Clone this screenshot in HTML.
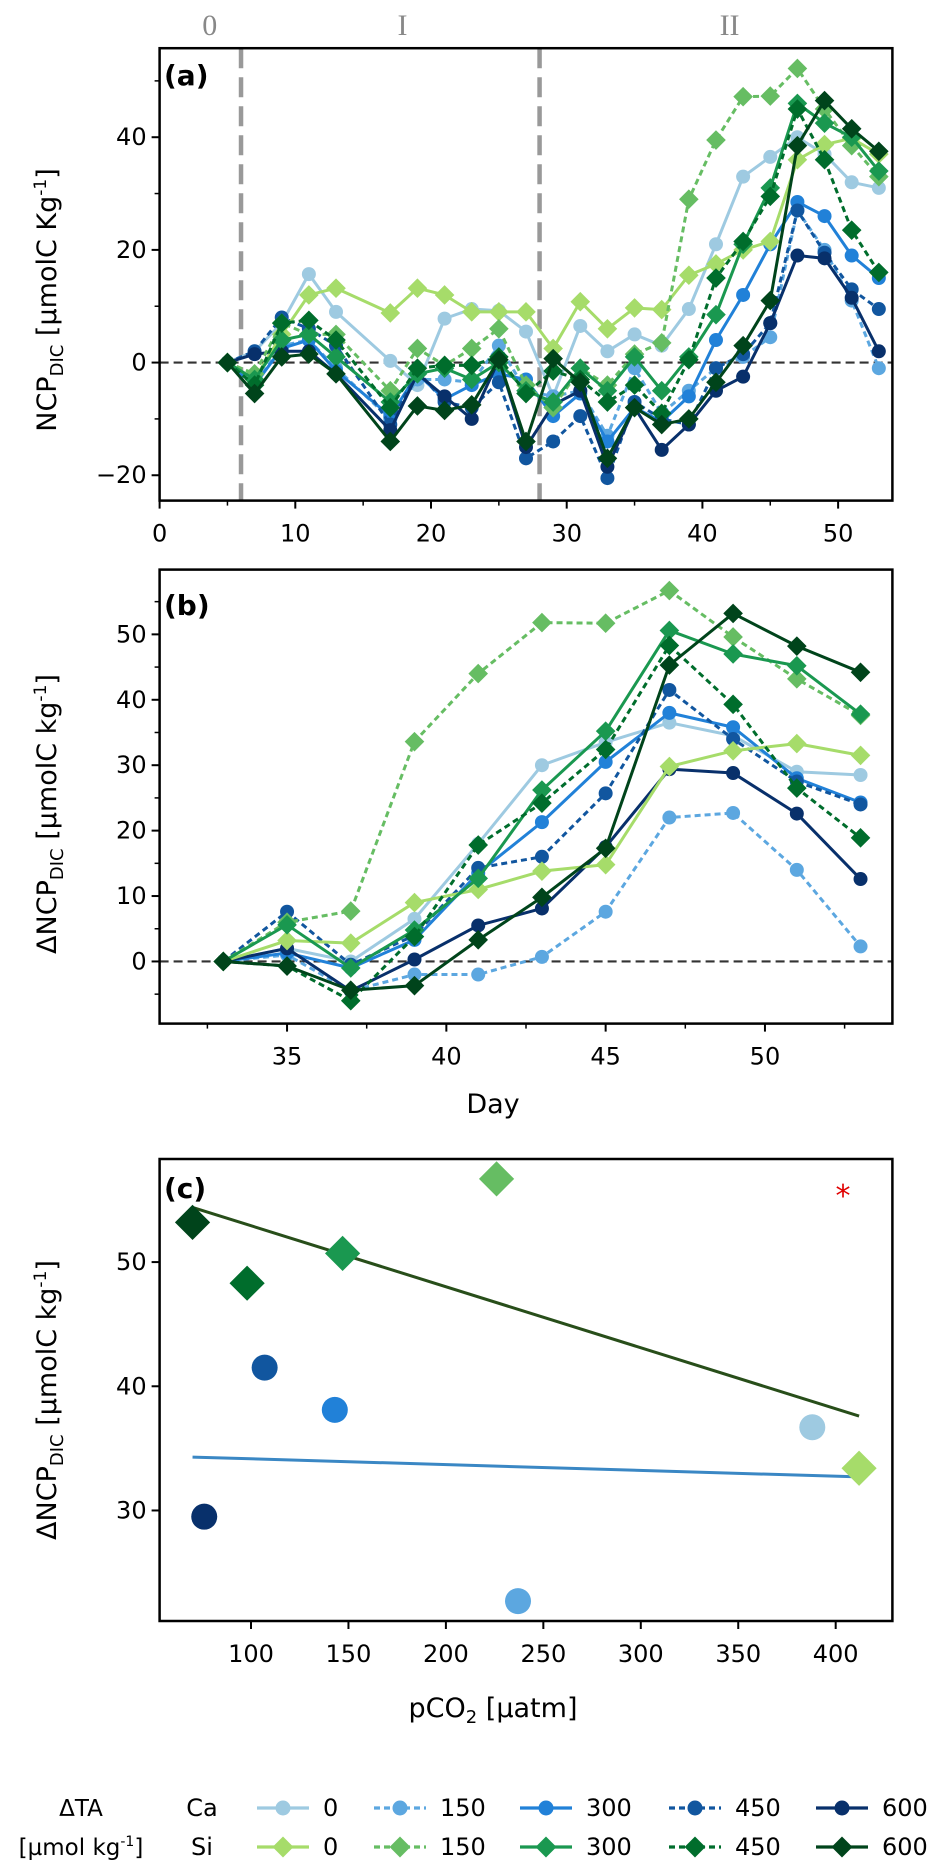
<!DOCTYPE html>
<html><head><meta charset="utf-8"><style>
html,body{margin:0;padding:0;background:#fff;}
svg text{font-family:"DejaVu Sans","Liberation Sans",sans-serif;}
</style></head><body>
<svg id="fig" xmlns="http://www.w3.org/2000/svg" width="937" height="1867" viewBox="0 0 937 1867"></svg>
<script>
// ---------- DATA ----------
const seriesNames = ["Ca0","Ca150","Ca300","Ca450","Ca600","Si0","Si150","Si300","Si450","Si600"];
const seriesLabels = ["0","150","300","450","600","0","150","300","450","600"];
const daysA = [5,7,9,11,13,17,19,21,23,25,27,29,31,33,35,37,39,41,43,45,47,49,51,53];
const aCa0   = [0,2,7,15.7,9,0.3,-4,7.8,9.5,9.2,5.5,-6,6.5,2,5,3,9.5,21,33,36.5,40,37,32,31];
const aCa150 = [0,-4,3,4,-1,-10,-3,-3,-3.5,3,-5,-6,-5,-13,-1,-9,-5,-1,1,4.5,27,20,11,-1];
const aCa300 = [0,-4,2.5,4,-1.5,-9.5,-2,-6.5,-4,-2,-3,-9.5,-5.5,-14,-8,-10.5,-6,4,12,21,28.5,26,19,15];
const aCa450 = [0,2,8,6,3,-11,-1.5,-7,-8,-3.5,-17,-14,-9.5,-20.5,-7,-10,-11,-1,1.5,7,27,19.5,13,9.5];
const aCa600 = [0,1.5,2,2,-2,-12,-2,-6,-10,0.5,-15,-7.5,-5,-18.5,-8,-15.5,-11,-5,-2.5,7,19,18.5,11.5,2];
const aSi0   = [0,-3,5,12,13.2,8.8,13.2,12,9,9,9,2.5,10.8,6,9.7,9.4,15.5,17.5,20,21.5,36,38.7,39.8,37];
const aSi150 = [0,-2,7,5,5,-5,2.5,-0.5,2.5,6,-4,-8,-1,-4,1.5,3.5,29,39.5,47.2,47.3,52.2,45,38.5,33];
const aSi300 = [0,-3,4,5,1,-7,-2,-1,-3,0,-5,-7,-1,-5,1,-5,1,8.5,21,31,46,42.5,40,34];
const aSi450 = [0,-4,7,7.5,4,-8,-1,-0.5,-0.5,1,-5.5,-1.5,-3,-7,-4,-9,0.5,15,21.5,29.5,45,36,23.5,16];
const aSi600 = [0,-5.5,1,1.5,-2,-14,-7.7,-8.5,-7.5,0.5,-14,0.7,-3.5,-17,-8,-11,-10,-3.5,3,11,38.5,46.5,41.5,37.5];
const daysB = [33,35,37,39,41,43,45,47,49,51,53];
const bCa0   = [0,2,0,6.5,18,30,33.5,36.5,34.5,29,28.5];
const bCa150 = [0,1,-4.5,-2,-2,0.7,7.6,22,22.7,14,2.3];
const bCa300 = [0,1.3,-1,3.3,13.5,21.3,30.5,38,35.8,28,24.3];
const bCa450 = [0,7.6,-0.5,4,14.3,16,25.7,41.5,34,27.5,24];
const bCa600 = [0,2,-4.5,0.3,5.5,8.1,17.5,29.4,28.8,22.6,12.6];
const bSi0   = [0,3.2,2.8,9,11,13.8,14.8,29.8,32.2,33.3,31.5];
const bSi150 = [0,6,7.7,33.6,44,51.8,51.7,56.7,49.6,43.2,37.6];
const bSi300 = [0,5.6,-1,4.8,12.7,26.2,35.2,50.6,47,45.2,37.8];
const bSi450 = [0,-0.7,-6,3.8,17.8,24.2,32.4,48.3,39.3,26.5,18.9];
const bSi600 = [0,-0.7,-4.4,-3.7,3.3,9.8,17.3,45.3,53.2,48.2,44.2];
const cPco2 = [388,237,143,107,76,412,226,147,98,70];
const cDelta = [36.7,22.7,38.1,41.5,29.5,33.4,56.7,50.7,48.3,53.2];
const fitSiX = [70,412];
const fitSiY = [54.4,37.6];
const fitCaX = [70,412];
const fitCaY = [34.3,32.7];
const ticksAx = [0,10,20,30,40,50];
const ticksAy = [-20,0,20,40];
const ticksBx = [35,40,45,50];
const ticksBy = [0,10,20,30,40,50];
const ticksCx = [100,150,200,250,300,350,400];
const ticksCy = [30,40,50];
const phaseLines = [6,28];
const phaseLabels = ["0","I","II"];
const phaseLabelDays = [3.7,17.9,42.0];

// ---------- STYLE ----------
const colors = ["#9ecae1","#5ca7e0","#2181d8","#11569f","#08306b","#a6dc6a","#66bd63","#1a9850","#006d2c","#00441b"];
const dashed = [false,true,false,true,false,false,true,false,true,false];
const aData = [aCa0,aCa150,aCa300,aCa450,aCa600,aSi0,aSi150,aSi300,aSi450,aSi600];
const bData = [bCa0,bCa150,bCa300,bCa450,bCa600,bSi0,bSi150,bSi300,bSi450,bSi600];

const NS = "http://www.w3.org/2000/svg";
const svg = document.getElementById('fig');
function mk(tag, attrs, parent){
  const e = document.createElementNS(NS, tag);
  for (const k in attrs) e.setAttribute(k, attrs[k]);
  (parent||svg).appendChild(e);
  return e;
}
function scale(d0,d1,r0,r1){ return v => r0 + (v-d0)*(r1-r0)/(d1-d0); }

const L = 159.6, R = 892.4;
const A = {x: scale(0,54,L,R), y: scale(-24.5,55.8,500.6,48.2), top:48.2, bot:500.6};
const B = {x: scale(31,54,L,R), y: scale(-9.5,59.9,1023.6,569.6), top:569.6, bot:1023.6};
const C = {x: scale(53.1,429.1,L,R), y: scale(21.1,58.3,1621,1159), top:1159, bot:1621};

function marker(g, isSi, x, y, r, color, name){
  let m;
  if (isSi) {
    const s = r*1.3;
    m = mk('polygon',{points:`${x},${y-s} ${x+s},${y} ${x},${y+s} ${x-s},${y}`, fill:color, stroke:color, 'stroke-width':1}, g);
  } else {
    m = mk('circle',{cx:x, cy:y, r:r, fill:color}, g);
  }
  
  
  return m;
}

function axesFrame(P, name, xt, yt, xminor, yminor){
  const g = mk('g',{});
  
  
  xt.forEach(t => {
    const x = P.x(t);
    const l = mk('line',{x1:x,x2:x,y1:P.bot,y2:P.bot+8,stroke:'#000','stroke-width':2}, g);
     
    const tx = mk('text',{x:x,y:P.bot+41,'text-anchor':'middle','font-size':24}, g);
    tx.textContent = t;
     
  });
  xminor.forEach(t => {
    const x = P.x(t);
    mk('line',{x1:x,x2:x,y1:P.bot,y2:P.bot+5,stroke:'#000','stroke-width':1.5}, g);
  });
  yt.forEach(t => {
    const y = P.y(t);
    const l = mk('line',{x1:L-8,x2:L,y1:y,y2:y,stroke:'#000','stroke-width':2}, g);
     
    const tx = mk('text',{x:L-13,y:y+8,'text-anchor':'end','font-size':24}, g);
    tx.textContent = (t<0?'\u2212':'') + Math.abs(t);
     
  });
  yminor.forEach(t => {
    const y = P.y(t);
    mk('line',{x1:L-5,x2:L,y1:y,y2:y,stroke:'#000','stroke-width':1.5}, g);
  });
  return g;
}
function frameRect(P){
  const r = mk('rect',{x:L,y:P.top,width:R-L,height:P.bot-P.top,fill:'none',stroke:'#000','stroke-width':2.5});
   
}
function ylabel(cx, cy, prefix, unit){
  const t = mk('text',{transform:`translate(${cx},${cy}) rotate(-90)`,'text-anchor':'middle','font-size':27});
   
  t.innerHTML = `${prefix}NCP<tspan font-size="18" dy="7">DIC</tspan><tspan dy="-7"> [µmolC ${unit}</tspan><tspan font-size="17" dy="-10">-1</tspan><tspan dy="10">]</tspan>`;
}
function panelLabel(y, txt, name){
  const t = mk('text',{x:164,y:y,'font-size':28,'font-weight':'bold'});
  t.textContent = txt;
   
}
function zeroLine(P){
  const l = mk('line',{x1:L,x2:R,y1:P.y(0),y2:P.y(0),stroke:'#333','stroke-width':2.2,'stroke-dasharray':'9,5'});
   
}
function drawSeries(P, days, data, panel, r){
  data.forEach((vals, i) => {
    const g = mk('g',{});
    
    
    const pts = days.map((d,k) => `${P.x(d)},${P.y(vals[k])}`).join(' ');
    const pl = mk('polyline',{points:pts,fill:'none',stroke:colors[i],'stroke-width':3,'stroke-linejoin':'round'}, g);
    if (dashed[i]) pl.setAttribute('stroke-dasharray','6,4');
    
    
    days.forEach((d,k) => marker(g, i>=5, P.x(d), P.y(vals[k]), r, colors[i], `${panel}-point-${seriesNames[i]}`));
  });
}

// ---------- PANEL A ----------
axesFrame(A, 'panel-a-axes', ticksAx, ticksAy, [5,15,25,35,45], [-10,10,30,50]);
phaseLines.forEach(d => {
  const l = mk('line',{x1:A.x(d),x2:A.x(d),y1:A.top,y2:A.bot,stroke:'#999','stroke-width':4.5,'stroke-dasharray':'20,9'});
   
});
phaseLabels.forEach((s,i) => {
  const t = mk('text',{x:A.x(phaseLabelDays[i]),y:35,'text-anchor':'middle','font-size':30,fill:'#888'});
  t.style.fontFamily = '"Liberation Serif", serif';
  t.textContent = s;
   
});
zeroLine(A);
drawSeries(A, daysA, aData, 'a', 7);
frameRect(A);
panelLabel(85,'(a)','panel-a-label');
ylabel(56, 300, '', 'Kg');

// ---------- PANEL B ----------
axesFrame(B, 'panel-b-axes', ticksBx, ticksBy, [32.5,37.5,42.5,47.5,52.5], [-5,5,15,25,35,45,55]);
zeroLine(B);
drawSeries(B, daysB, bData, 'b', 7);
frameRect(B);
panelLabel(615,'(b)','panel-b-label');
ylabel(56, 814, 'Δ', 'kg');
{
  const t = mk('text',{x:493,y:1113,'text-anchor':'middle','font-size':27});
  t.textContent = 'Day';
   
}

// ---------- PANEL C ----------
axesFrame(C, 'panel-c-axes', ticksCx, ticksCy, [], []);
{
  const l1 = mk('line',{x1:C.x(fitSiX[0]),y1:C.y(fitSiY[0]),x2:C.x(fitSiX[1]),y2:C.y(fitSiY[1]),stroke:'#284e1a','stroke-width':3});
   
  const l2 = mk('line',{x1:C.x(fitCaX[0]),y1:C.y(fitCaY[0]),x2:C.x(fitCaX[1]),y2:C.y(fitCaY[1]),stroke:'#3a87c4','stroke-width':3});
   
}
cPco2.forEach((p,i) => marker(svg, i>=5, C.x(p), C.y(cDelta[i]), 13, colors[i], `c-point-${seriesNames[i]}`));
frameRect(C);
panelLabel(1198,'(c)','panel-c-label');
ylabel(56, 1400, 'Δ', 'kg');
{
  const s = mk('text',{x:843,y:1206,'text-anchor':'middle','font-size':30,fill:'#e00000'});
  s.textContent = '*';
   
  const t = mk('text',{x:493,y:1717,'text-anchor':'middle','font-size':27});
  t.innerHTML = 'pCO<tspan font-size="18" dy="6">2</tspan><tspan dy="-6"> [µatm]</tspan>';
   
}

// ---------- LEGEND ----------
{
  const g = mk('g',{});
  
  
  const t1 = mk('text',{x:81,y:1816,'text-anchor':'middle','font-size':23}, g);
  t1.textContent = 'ΔTA';
   
  const t2 = mk('text',{x:81,y:1855,'text-anchor':'middle','font-size':23}, g);
  t2.innerHTML = '[µmol kg<tspan font-size="14" dy="-9">-1</tspan><tspan dy="9">]</tspan>';
   
  const rowsY = [1808,1847];
  ['Ca','Si'].forEach((s,r) => {
    const t = mk('text',{x:202,y:rowsY[r]+8,'text-anchor':'middle','font-size':24}, g);
    t.textContent = s;
     
  });
  const colX = [257,374,520,669,816];
  seriesNames.forEach((n,i) => {
    const r = Math.floor(i/5), c = i%5;
    const y = rowsY[r], x0 = colX[c], x1 = x0+52;
    const e = mk('g',{}, g);
    
    
    const l = mk('line',{x1:x0,x2:x1,y1:y,y2:y,stroke:colors[i],'stroke-width':3.2}, e);
    if (dashed[i]) l.setAttribute('stroke-dasharray','6,4');
    marker(e, i>=5, (x0+x1)/2, y, 7.5, colors[i], 'legend-marker');
    const t = mk('text',{x:x1+14,y:y+8,'font-size':24}, e);
    t.textContent = seriesLabels[i];
  });
}
</script>
</body></html>
